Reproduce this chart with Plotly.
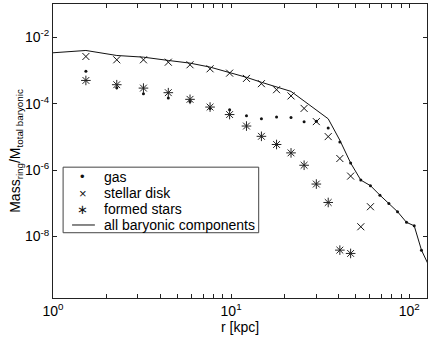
import plotly.graph_objects as go

# radii [kpc] of the rings
r_rings = [1.53, 2.28, 3.22, 4.44, 5.88, 7.62, 9.81, 12.2, 14.8, 18.0, 21.7, 25.7,
           30.1, 35.1, 40.8, 46.9, 53.5, 60.6, 68.5, 76.9, 86.0, 96.6, 106.7, 117.2]

gas = [9.5e-4, 3.0e-4, 2.0e-4, 1.49e-4, 1.17e-4, 7.2e-5, 6.6e-5, 4.3e-5, 3.5e-5, 4.0e-5,
       3.8e-5, 2.84e-5, 2.94e-5, 1.85e-5, 7.0e-6, 1.64e-6, 5.0e-7, 3.4e-7, 1.76e-7,
       9.9e-8, 5.6e-8, 2.67e-8, 2.11e-8, 3.9e-9]

r_disk = r_rings[:18]
disk = [2.63e-3, 2.09e-3, 2.09e-3, 1.77e-3, 1.48e-3, 1.12e-3, 8.3e-4, 5.75e-4, 4.0e-4,
        2.63e-4, 1.71e-4, 7.2e-5, 2.88e-5, 1.02e-5, 2.23e-6, 6.6e-7, 1.97e-8, 7.9e-8]

r_stars = r_rings[:16]
stars = [5.0e-4, 3.72e-4, 2.94e-4, 2.14e-4, 1.35e-4, 7.9e-5, 4.7e-5, 2.12e-5, 1.04e-5,
         5.9e-6, 3.3e-6, 1.40e-6, 3.8e-7, 1.06e-7, 3.9e-9, 3.1e-9]

r_all = [1.0] + r_rings + [127.0]
all_baryonic = [3.40e-3, 3.99e-3, 2.82e-3, 2.51e-3, 2.00e-3, 1.66e-3, 1.26e-3, 8.7e-4,
                6.2e-4, 4.4e-4, 3.1e-4, 2.34e-4, 1.20e-4, 6.4e-5, 3.5e-5, 7.9e-6, 1.64e-6,
                5.0e-7, 3.4e-7, 1.76e-7, 9.9e-8, 5.6e-8, 2.67e-8, 2.11e-8, 3.9e-9, 1.57e-9]

x_ticks = [1, 2, 3, 4, 5, 6, 7, 8, 9, 10, 20, 30, 40, 50, 60, 70, 80, 90, 100]
x_labels = ["10<sup>0</sup>"] + [""] * 8 + ["10<sup>1</sup>"] + [""] * 8 + ["10<sup>2</sup>"]
y_ticks = [1e-8, 1e-6, 1e-4, 1e-2]
y_labels = ["10<sup>-8</sup>", "10<sup>-6</sup>", "10<sup>-4</sup>", "10<sup>-2</sup>"]

legend_names = ["gas", "stellar disk", "formed stars", "all baryonic components"]
legend_glyphs = ["•", "×", "∗", ""]

ink = "#111111"

fig = go.Figure()
fig.add_trace(go.Scatter(x=r_rings, y=gas, mode="markers", name="gas",
                         marker=dict(symbol="circle", size=3, color=ink)))
fig.add_trace(go.Scatter(x=r_disk, y=disk, mode="markers", name="stellar disk",
                         marker=dict(symbol="x-thin", size=7, color=ink,
                                     line=dict(width=1, color=ink))))
fig.add_trace(go.Scatter(x=r_stars, y=stars, mode="markers", name="formed stars",
                         marker=dict(symbol="asterisk", size=8, color=ink,
                                     line=dict(width=1, color="#222"))))
fig.add_trace(go.Scatter(x=r_all, y=all_baryonic, mode="lines",
                         name="all baryonic components",
                         line=dict(color=ink, width=1)))

axis_style = dict(showline=True, linecolor="#222", linewidth=1, mirror="allticks",
                  ticks="inside", ticklen=4, tickcolor="#222", showgrid=False,
                  zeroline=False, automargin=False,
                  tickfont=dict(size=14, color="black"))

fig.update_xaxes(type="log", range=[0, 2.1], tickvals=x_ticks, ticktext=x_labels,
                 title=dict(text="r [kpc]", font=dict(size=14, color="black"), standoff=2),
                 **axis_style)
fig.update_yaxes(type="log", range=[-9.85, -1.0], tickvals=y_ticks, ticktext=y_labels,
                 title=dict(text="Mass<sub>ring</sub>/M<sub>total baryonic</sub>",
                            font=dict(size=14, color="black"), standoff=0),
                 **axis_style)

# legend box drawn by hand so the rows sit as tight as in the original
fig.add_shape(type="rect", xref="paper", yref="paper", x0=0.027, x1=0.55,
              y0=0.222, y1=0.445, line=dict(color="#444", width=1), fillcolor="white",
              layer="above")
row_y = [0.4126, 0.3561, 0.3017, 0.2483]
for name, glyph, yy in zip(legend_names, legend_glyphs, row_y):
    fig.add_annotation(xref="paper", yref="paper", x=0.13, y=yy, text=name,
                       showarrow=False, xanchor="left", yanchor="middle",
                       font=dict(size=14, color="black"))
    if glyph:
        fig.add_annotation(xref="paper", yref="paper", x=0.0802, y=yy, text=glyph,
                           showarrow=False, xanchor="center", yanchor="middle",
                           font=dict(size=13, color=ink))
fig.add_shape(type="line", xref="paper", yref="paper", x0=0.051, x1=0.112,
              y0=row_y[3], y1=row_y[3], line=dict(color=ink, width=1), layer="above")

fig.update_layout(
    width=436, height=339,
    margin=dict(l=53, r=9, t=4, b=41),
    paper_bgcolor="white", plot_bgcolor="white",
    font=dict(family="Liberation Sans, Arial, sans-serif", color="black"),
    showlegend=False,
)

fig.write_html("out.html", config={"displayModeBar": False},
               post_script="document.body.style.margin='0';")
